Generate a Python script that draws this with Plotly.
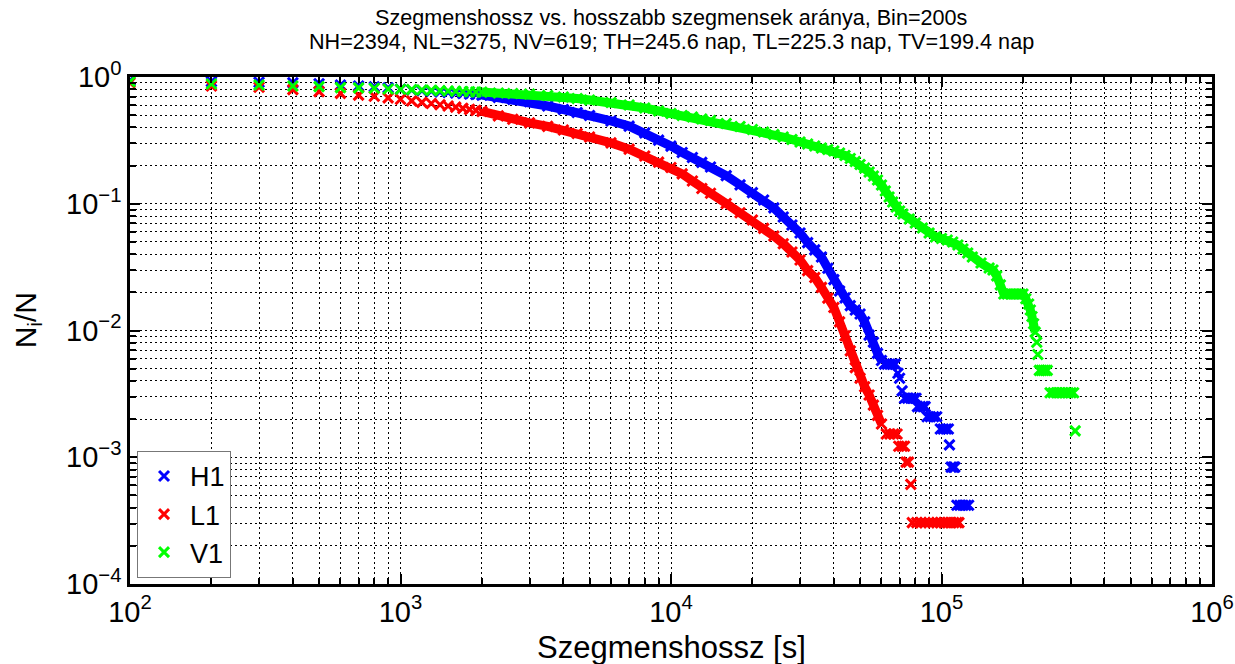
import plotly.graph_objects as go

# ---------------- data ----------------
H1_x = [100, 200, 300, 400, 500, 600, 700, 800, 900, 1000,
        1100, 1200, 1300, 1400, 1500, 1600, 1700, 1800, 1900, 2000,
        2300, 2600, 3000, 3500, 4000, 4500, 5000, 6000, 7000, 8000, 9000,
        10000, 11000, 12000, 13000, 14000, 16000, 18000, 20000, 22000, 24000, 26000, 28000,
        30000, 32000, 34000, 36000, 38000, 40000, 42000, 44000, 46000, 48000, 50000,
        52000, 54000, 56000, 58000, 60000,
        61500, 63000, 64500, 66000, 67500, 69000, 70000, 71500,
        73000, 75000, 77000, 79000, 80500,
        81500, 83500, 85500, 87000,
        88500, 91000, 93500, 96000,
        99000, 101500, 104000, 106000,
        107000,
        108500, 110500, 112000,
        114000, 117000, 120000, 123000, 126000]
H1_y = [0.94, 0.92, 0.91, 0.90, 0.885, 0.865, 0.85, 0.835, 0.82, 0.80,
        0.79, 0.78, 0.772, 0.764, 0.756, 0.748, 0.741, 0.734, 0.727, 0.72,
        0.689, 0.666, 0.64, 0.59, 0.554, 0.525, 0.497, 0.45, 0.41, 0.362, 0.318,
        0.285, 0.254, 0.2316, 0.212, 0.195, 0.1666, 0.1409, 0.1223, 0.107, 0.0927, 0.0787, 0.068,
        0.0588, 0.0494, 0.0433, 0.038, 0.031, 0.0252, 0.0205, 0.0181, 0.0157, 0.0145, 0.0135,
        0.0117, 0.0092, 0.0081, 0.0066, 0.0058,
        0.00543, 0.00543, 0.00543, 0.00543, 0.00543, 0.0046, 0.0042, 0.00334,
        0.00292, 0.00292, 0.00292, 0.00292, 0.00292,
        0.002506, 0.002506, 0.002506, 0.002506,
        0.002089, 0.002089, 0.002089, 0.002089,
        0.001671, 0.001671, 0.001671, 0.001671,
        0.001253,
        0.000835, 0.000835, 0.000835,
        0.000418, 0.000418, 0.000418, 0.000418, 0.000418]

L1_x = [100, 200, 300, 400, 500, 600, 700, 800, 900, 1000,
        1100, 1200, 1300, 1400, 1500, 1600, 1700, 1800, 1900, 2000,
        2300, 2600, 3000, 3500, 4000, 4500, 5000, 6000, 7000, 8000, 9000,
        10000, 11000, 12000, 13000, 14000, 16000, 18000, 20000, 22000, 24000, 26000, 28000,
        30000, 32000, 34000, 36000, 38000, 40000, 42000, 44000, 46000, 48000, 50000,
        52000, 54000, 56000, 58000, 60000,
        62500, 64500, 66500, 68500,
        69500, 71500, 73000,
        74000, 75500,
        77000,
        78000, 81000, 84000, 87000, 90000, 93000, 96000, 99000, 102000, 105000,
        108000, 111000, 114000, 116000]
L1_y = [0.90, 0.85, 0.83, 0.795, 0.766, 0.742, 0.72, 0.705, 0.685, 0.667,
        0.648, 0.63, 0.618, 0.604, 0.59, 0.578, 0.566, 0.555, 0.545, 0.535,
        0.493, 0.464, 0.435, 0.408, 0.382, 0.358, 0.336, 0.302, 0.27, 0.238, 0.213,
        0.193, 0.172, 0.151, 0.132, 0.121, 0.1004, 0.085, 0.0744, 0.064, 0.0556, 0.0484, 0.0416,
        0.036, 0.0297, 0.0262, 0.0219, 0.018, 0.0152, 0.0117, 0.0091, 0.0069, 0.0051, 0.0042,
        0.0036, 0.0031, 0.00258, 0.00214, 0.00183,
        0.001527, 0.001527, 0.001527, 0.001527,
        0.001221, 0.001221, 0.001221,
        0.000916, 0.000916,
        0.000611,
        0.000305, 0.000305, 0.000305, 0.000305, 0.000305, 0.000305, 0.000305, 0.000305,
        0.000305, 0.000305, 0.000305, 0.000305, 0.000305, 0.000305]

V1_x = [100, 200, 300, 400, 500, 600, 700, 800, 900, 1000,
        1100, 1200, 1300, 1400, 1500, 1600, 1700, 1800, 1900, 2000,
        2300, 2600, 3000, 3500, 4000, 4500, 5000, 6000, 7000, 8000, 9000,
        10000, 11000, 12000, 13000, 14000, 16000, 18000, 20000, 22000, 24000, 26000, 28000,
        30000, 32000, 34000, 36000, 38000, 40000, 42000, 44000, 46000, 48000, 50000,
        52000, 54000, 56000, 58000, 60000,
        62000, 64000, 66000, 68000, 70000, 72000, 76000, 80000, 85000, 90000, 95000,
        100000, 105000, 110000, 115000, 120000, 125000, 130000, 140000, 150000, 155000,
        160000, 165000, 170000, 175000, 180000, 185000, 190000, 195000, 200000,
        205000, 210000, 213000, 216000, 219000, 222000,
        225000, 227000,
        230000, 234000, 238000, 242000, 246000,
        252000, 259000, 266000, 273000, 280000, 287000, 294000, 301000, 308000,
        312000]
V1_y = [0.92, 0.88, 0.865, 0.85, 0.84, 0.825, 0.82, 0.815, 0.805, 0.80,
        0.795, 0.79, 0.785, 0.78, 0.776, 0.772, 0.768, 0.765, 0.762, 0.76,
        0.748, 0.741, 0.734, 0.715, 0.695, 0.677, 0.659, 0.629, 0.601, 0.569, 0.539,
        0.515, 0.497, 0.484, 0.466, 0.454, 0.43, 0.407, 0.385, 0.368, 0.352, 0.336, 0.321,
        0.307, 0.296, 0.2855, 0.2753, 0.268, 0.2608, 0.2514, 0.2402, 0.2275, 0.2155, 0.204,
        0.1914, 0.178, 0.1656, 0.154, 0.1405,
        0.126, 0.113, 0.1032, 0.0943, 0.0877, 0.083, 0.0758, 0.0705, 0.0644, 0.0588, 0.0547,
        0.0532, 0.0518, 0.0499, 0.0473, 0.044, 0.0409, 0.038, 0.0341, 0.0311, 0.030,
        0.027, 0.0229, 0.0194, 0.0194, 0.0194, 0.0194, 0.0194, 0.0194, 0.0194,
        0.0178, 0.0162, 0.0145, 0.0129, 0.0113, 0.0097,
        0.00808, 0.00646,
        0.00485, 0.00485, 0.00485, 0.00485, 0.00485,
        0.00323, 0.00323, 0.00323, 0.00323, 0.00323, 0.00323, 0.00323, 0.00323, 0.00323,
        0.001616]

x_tick_vals = [1e2, 1e3, 1e4, 1e5, 1e6]
x_tick_text = ["10<sup>2</sup>", "10<sup>3</sup>", "10<sup>4</sup>", "10<sup>5</sup>", "10<sup>6</sup>"]
y_tick_vals = [1e-4, 1e-3, 1e-2, 1e-1, 1]
y_tick_text = ["10<sup>\u22124</sup>", "10<sup>\u22123</sup>", "10<sup>\u22122</sup>",
               "10<sup>\u22121</sup>", "10<sup>0</sup>"]

title_line1 = "Szegmenshossz vs. hosszabb szegmensek aránya, Bin=200s"
title_line2 = "NH=2394, NL=3275, NV=619; TH=245.6 nap, TL=225.3 nap, TV=199.4 nap"
x_label = "Szegmenshossz [s]"
y_label = "N<sub>i</sub>/N"

# ---------------- figure ----------------
series = [
    ("H1", H1_x, H1_y, "#0000ff", 60000),
    ("L1", L1_x, L1_y, "#ff0000", 60000),
    ("V1", V1_x, V1_y, "#00ff00", 222000),
]

fig = go.Figure()
for name, xs, ys, col, band_end in series:
    bx = [x for x in xs if 2000 <= x <= band_end]
    by = [y for x, y in zip(xs, ys) if 2000 <= x <= band_end]
    fig.add_trace(go.Scatter(x=bx, y=by, mode="lines", line=dict(color=col, width=9),
                             showlegend=False, hoverinfo="skip"))
    fig.add_trace(go.Scatter(x=xs, y=ys, mode="markers", name=name,
                             marker=dict(symbol="x-thin", size=10, color=col,
                                         line=dict(color=col, width=3))))

grid_dash = "2px,3px"
grid_col = "#000000"
minor_x = [m * 10 ** e for e in range(2, 6) for m in range(2, 10)]
minor_y = [m * 10.0 ** e for e in range(-4, 0) for m in range(2, 10)]

common = dict(type="log", showline=True, linecolor="black", linewidth=2.5,
              mirror="allticks", ticks="inside", ticklen=10, tickwidth=1.5,
              tickcolor="black", showgrid=True, gridcolor=grid_col, gridwidth=1,
              griddash=grid_dash, zeroline=False,
              tickfont=dict(size=29, color="black"))

fig.update_xaxes(range=[2, 6], tickmode="array", tickvals=x_tick_vals, ticktext=x_tick_text,
                 minor=dict(tickmode="array", tickvals=minor_x, ticks="inside", ticklen=6,
                            tickwidth=1.5, tickcolor="black", showgrid=True,
                            gridcolor=grid_col, gridwidth=1, griddash=grid_dash),
                 **common)
fig.update_yaxes(range=[-4, 0], tickmode="array", tickvals=y_tick_vals, ticktext=y_tick_text,
                 minor=dict(tickmode="array", tickvals=minor_y, ticks="inside", ticklen=6,
                            tickwidth=1.5, tickcolor="black", showgrid=True,
                            gridcolor=grid_col, gridwidth=1, griddash=grid_dash),
                 **common)

annotations = [
    dict(text=title_line1, x=0.5, y=1.1164, xref="paper", yref="paper",
         xanchor="center", yanchor="middle", showarrow=False,
         font=dict(size=21.6, color="black")),
    dict(text=title_line2, x=0.5, y=1.071, xref="paper", yref="paper",
         xanchor="center", yanchor="middle", showarrow=False,
         font=dict(size=21.6, color="black")),
    dict(text=x_label, x=0.5, y=-0.1243, xref="paper", yref="paper",
         xanchor="center", yanchor="middle", showarrow=False,
         font=dict(size=31, color="black")),
    dict(text=y_label, x=-0.0952, y=0.52, xref="paper", yref="paper",
         xanchor="center", yanchor="middle", showarrow=False, textangle=-90,
         font=dict(size=30, color="black")),
]

fig.update_layout(
    width=1235, height=664,
    margin=dict(l=130, r=23, t=77, b=80, autoexpand=False),
    paper_bgcolor="white", plot_bgcolor="white",
    font=dict(family="Liberation Sans, Arial, sans-serif", color="black"),
    annotations=annotations,
    legend=dict(x=0.0065, y=0.012, xanchor="left", yanchor="bottom",
                bgcolor="white", bordercolor="#777777", borderwidth=1,
                font=dict(size=27, color="black"), tracegroupgap=0, itemwidth=42),
    showlegend=True,
)

fig.write_html("out.html", config={"displayModeBar": False},
               post_script="document.body.style.margin='0';")
